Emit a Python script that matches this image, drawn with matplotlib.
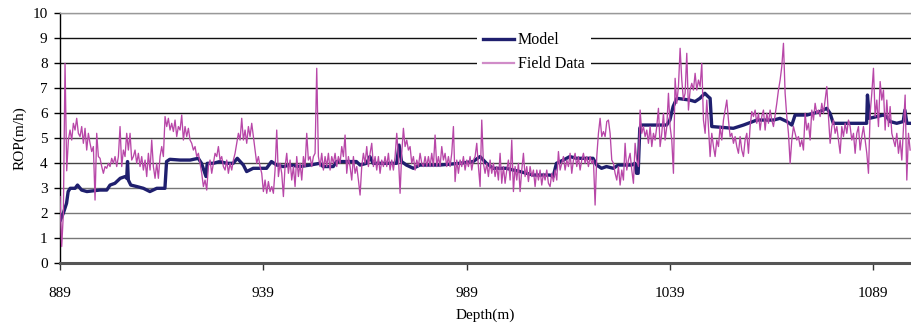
import numpy as np
import matplotlib
matplotlib.use("Agg")
import matplotlib.pyplot as plt

# ---------------- data ----------------
x_ticks = [889, 939, 989, 1039, 1089]
y_ticks = list(range(0, 11))

model_depth = [889.1, 889.8, 890.6, 891.0, 891.5, 892.7, 893.3, 894.3, 895.6, 897.2,
               898.8, 900.5, 901.3, 902.5, 903.8, 905.0, 905.4, 905.6, 905.8, 906.4,
               907.9, 909.5, 911.1, 912.8, 914.8, 915.2, 916.0, 918.5, 921.0, 923.0,
               923.8, 924.9, 925.2, 926.7, 928.3, 930.0, 931.6, 932.6, 934.1, 934.9,
               936.5, 938.2, 939.8, 941.0, 942.3, 943.9, 945.6, 948.0, 950.5, 952.9,
               953.7, 956.2, 957.0, 961.9, 962.8, 964.4, 965.2, 966.0, 971.8, 972.4,
               973.0, 974.2, 975.9, 977.5, 982.4, 987.3, 990.6, 992.3, 993.9, 995.5,
               998.8, 1000.5, 1002.1, 1003.7, 1005.4, 1009.5, 1010.3, 1011.1, 1012.8, 1014.4,
               1016.0, 1020.1, 1021.0, 1022.2, 1023.4, 1025.1, 1026.3, 1029.6, 1030.4, 1030.8,
               1031.2, 1031.6, 1032.0, 1038.2, 1039.0, 1039.8, 1040.7, 1043.9, 1045.2, 1046.4,
               1047.6, 1048.4, 1048.9, 1049.3, 1054.6, 1057.1, 1060.4, 1064.5, 1066.1, 1067.8,
               1069.0, 1069.8, 1072.7, 1074.3, 1075.9, 1077.6, 1078.4, 1079.2, 1087.4, 1087.6,
               1088.1, 1091.5, 1092.3, 1093.2, 1094.8, 1096.4, 1096.8, 1097.3, 1098.2]
model_rop = [1.73, 2.0, 2.4, 2.87, 3.0, 3.0, 3.13, 2.93, 2.87, 2.9,
             2.93, 2.93, 3.13, 3.2, 3.4, 3.47, 3.4, 4.07, 3.33, 3.13,
             3.07, 3.0, 2.87, 3.0, 3.0, 4.07, 4.16, 4.13, 4.13, 4.2,
             4.0, 3.47, 4.0, 4.0, 4.07, 4.0, 4.0, 4.2, 3.93, 3.67,
             3.8, 3.8, 3.8, 4.07, 3.93, 3.87, 3.93, 3.87, 3.93, 4.0,
             3.87, 3.87, 4.07, 4.07, 3.93, 4.0, 4.27, 4.0, 4.0, 4.73,
             4.07, 3.93, 3.8, 3.93, 3.93, 4.0, 4.07, 4.27, 4.0, 3.8,
             3.8, 3.73, 3.67, 3.6, 3.53, 3.53, 3.47, 4.0, 4.13, 4.27,
             4.2, 4.2, 3.93, 3.8, 3.87, 3.8, 3.93, 3.93, 4.0, 3.6,
             3.6, 5.4, 5.53, 5.53, 5.73, 6.27, 6.6, 6.53, 6.47, 6.6,
             6.8, 6.67, 6.6, 5.47, 5.4, 5.53, 5.73, 5.73, 5.8, 5.67,
             5.53, 5.93, 5.93, 6.0, 6.07, 6.2, 6.0, 5.6, 5.6, 6.73,
             5.8, 5.93, 5.87, 5.67, 5.6, 5.67, 6.13, 5.6, 5.6]

field_start = 889.0
field_step = 0.41
field_rop = [
    2.67, 0.67, 2.0, 8.0, 3.7, 4.93, 5.33, 4.93, 5.6, 5.33,
    5.8, 5.2, 5.07, 5.47, 4.8, 5.4, 4.53, 5.2, 4.8, 4.47,
    4.67, 2.53, 5.2, 4.27, 4.2, 3.87, 3.6, 3.87, 3.8, 4.0,
    3.87, 4.2, 4.0, 4.27, 3.87, 4.27, 5.47, 3.87, 4.53, 4.27,
    5.2, 4.53, 5.2, 4.13, 4.27, 4.53, 4.0, 4.4, 3.87, 4.27,
    3.73, 4.13, 3.47, 4.4, 3.73, 4.93, 3.87, 3.4, 4.0, 3.4,
    4.27, 4.67, 4.27, 5.87, 5.47, 5.8, 5.33, 5.6, 5.27, 5.73,
    5.07, 5.47, 5.33, 5.93, 4.93, 5.47, 5.07, 5.4, 4.93, 4.8,
    4.53, 4.67, 4.27, 4.4, 4.0, 3.6, 3.07, 3.33, 2.93, 3.87,
    4.13, 3.6, 4.0, 4.4, 4.27, 4.67, 4.13, 4.27, 3.87, 3.73,
    4.13, 3.6, 4.0, 3.73, 4.13, 4.4, 4.8, 5.2, 4.93, 5.8,
    4.93, 5.33, 4.8, 5.47, 5.07, 5.6, 5.07, 4.53, 4.0, 4.27,
    3.87, 3.6, 2.87, 3.33, 2.8, 3.27, 2.87, 3.07, 2.8, 3.73,
    5.33, 3.47, 4.0, 3.6, 2.67, 3.87, 4.4, 3.6, 4.13, 3.33,
    3.87, 3.07, 4.27, 3.47, 4.0, 3.33, 4.27, 3.87, 5.2, 4.13,
    4.27, 3.87, 4.27, 4.4, 7.8, 4.27,
    3.87, 4.4, 3.73, 4.27, 3.87, 4.4, 3.73, 4.27, 4.0, 4.4,
    3.87, 4.27, 4.0, 4.67, 4.27, 5.13, 3.6, 4.27, 3.87, 3.33,
    4.27, 3.6, 3.87, 3.33, 2.73, 3.87, 4.4, 4.0, 4.67, 3.87,
    4.4, 4.8, 3.87, 4.27, 3.73, 4.27, 3.6, 4.13, 3.87, 4.27,
    3.87, 4.4, 3.73, 4.13, 3.73, 4.27, 5.2, 4.27, 2.8, 4.4,
    5.4, 4.67, 4.93, 4.53, 4.67, 4.0, 4.27, 3.73, 4.13, 3.87,
    4.4, 4.0, 3.87, 4.27, 3.87, 4.27, 3.87, 4.4, 3.87, 5.13,
    3.87, 4.27, 3.87, 4.67, 4.13, 4.4, 3.87, 4.27, 3.87, 4.4,
    5.47, 3.27, 4.13, 3.6, 4.13, 3.87, 4.27, 3.73, 4.13, 3.87,
    4.27, 3.73, 4.13, 4.27, 4.8, 3.87, 3.07, 5.73, 4.0, 3.6,
    4.0, 3.47, 4.13, 3.6, 4.0, 3.47, 3.87, 3.33, 4.4, 3.2,
    3.87, 3.2, 3.73, 4.13, 3.33, 4.93, 2.87, 3.87, 3.33, 4.0,
    2.87, 3.73, 4.4, 3.47, 3.87, 3.27, 3.87, 3.47, 3.73, 3.07,
    3.73, 3.33, 3.73, 3.13, 3.6, 3.33, 3.73, 3.2, 3.07, 3.6,
    3.27, 3.73, 3.33, 4.47, 3.73, 4.0, 4.27, 3.73, 4.13, 3.87,
    4.4, 3.6, 4.13, 4.4, 3.87, 4.27, 3.73, 4.13, 4.4, 4.0,
    4.27, 3.87, 4.27, 4.0, 4.13, 2.33, 4.27, 5.2, 5.8, 5.07,
    5.27, 5.07, 5.67, 5.73, 5.2, 4.13, 4.0, 3.6, 3.33, 3.87,
    3.13, 3.73, 3.33, 4.8, 3.73, 4.13, 4.4, 3.73, 3.2, 4.8,
    4.13, 3.87, 6.13, 5.2, 5.47, 5.07, 5.33, 4.8, 5.47, 4.67,
    5.2, 4.93, 5.47, 6.2, 4.67, 5.2, 6.0, 4.93, 5.47, 6.8,
    5.47, 4.93, 3.6, 7.4, 6.4, 7.07, 8.6, 7.33, 6.53, 6.8,
    8.4, 6.13, 6.93, 7.2, 6.93, 7.6, 6.93, 7.33, 7.07, 8.0,
    5.73, 5.2, 6.53, 5.47, 4.27, 5.2, 4.67, 4.27, 4.93, 4.67,
    5.47, 4.93, 5.73, 6.13, 6.53, 5.73, 5.07, 5.2, 4.8, 5.07,
    4.67, 4.4, 5.07, 4.53, 4.27, 4.93, 5.2, 4.4, 5.47, 6.07,
    5.87, 6.13, 5.6, 6.0, 5.33, 5.87, 6.13, 5.33, 6.0, 5.6,
    6.13, 5.73, 5.47, 5.93, 6.4, 6.93, 7.33, 7.87, 8.8, 6.8,
    5.87, 5.2, 4.0, 4.93, 5.47, 5.2, 4.93, 5.07, 4.67, 4.93,
    4.53, 6.0, 5.33, 5.6, 4.93, 6.13, 5.73, 6.4, 6.0, 6.13,
    5.87, 6.4, 6.0, 6.53, 7.07, 5.87, 4.8, 5.47, 5.73, 5.2,
    5.47, 4.93, 4.4, 5.47, 5.07, 5.6, 5.2, 5.73, 5.47, 4.93,
    5.2, 4.4, 5.2, 5.47, 4.53, 5.07, 5.47, 4.93, 4.4, 3.6,
    6.0, 6.8, 7.8, 5.87, 6.53, 5.47, 7.27, 6.53, 6.93, 5.33,
    6.53, 5.47, 6.27, 5.2, 4.93, 4.67, 5.2, 4.4, 4.93, 4.13,
    5.47, 6.73, 3.33, 5.2, 4.53,
]
field_depth = field_start + field_step * np.arange(len(field_rop))

# ---------------- plot ----------------
plt.rcParams['font.family'] = ['Liberation Serif', 'DejaVu Serif']
fig = plt.figure(figsize=(9.11, 3.27), dpi=100)
ax = fig.add_axes([0.0659, 0.1948, 0.9336, 0.7645])

ax.plot(model_depth, model_rop, color='#1f1f6e', lw=2.4, label='Model', zorder=3,
        solid_joinstyle='round')
ax.plot(field_depth, field_rop, color='#b847a8', lw=0.95, label='Field Data', zorder=4)

ax.set_xlim(889, 1098.2)
ax.set_ylim(0, 10)
ax.set_xticks(x_ticks)
ax.set_yticks(y_ticks)
ax.tick_params(axis='both', labelsize=11, colors='black', direction='out')
ax.tick_params(axis='y', length=4, width=1, pad=5)
ax.tick_params(axis='x', length=5, width=1, pad=12, color='#333333')

ax.yaxis.grid(True, zorder=0)
grid_colors = ['#777777', '#777777', '#777777', '#777777', '#444444', '#444444',
               '#111111', '#111111', '#111111', '#111111', '#999999']
for gl, c in zip(ax.get_ygridlines(), grid_colors):
    gl.set_color(c)
    gl.set_linewidth(1.0)
ax.set_axisbelow(True)

ax.spines['right'].set_visible(False)
ax.spines['top'].set_color('#999999')
ax.spines['top'].set_linewidth(1.0)
ax.spines['left'].set_color('black')
ax.spines['left'].set_linewidth(1.0)
ax.spines['bottom'].set_color('#555555')
ax.spines['bottom'].set_linewidth(2.2)

ax.set_xlabel('Depth(m)', fontsize=11, labelpad=6)
ax.set_ylabel('ROP(m/h)', fontsize=11, labelpad=4)

leg = ax.legend(loc='upper left', bbox_to_anchor=(0.49, 0.95), borderaxespad=0,
                frameon=True, fancybox=False, framealpha=1, facecolor='white',
                edgecolor='none', fontsize=11.5, handlelength=1.9,
                handletextpad=0.25, labelspacing=0.5, borderpad=0.4)
leg.set_zorder(10)
leg.get_lines()[1].set_color('#d08cc8')
leg.get_lines()[1].set_linewidth(1.6)

fig.savefig('out.png', dpi=100)
